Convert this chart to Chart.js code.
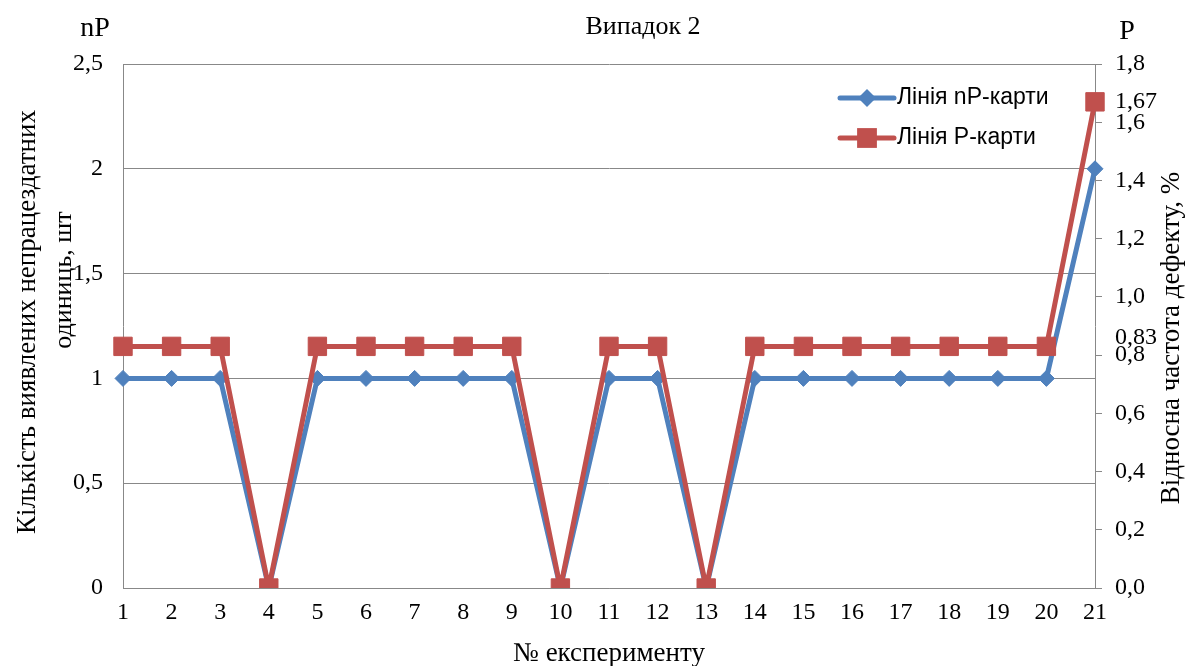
<!DOCTYPE html>
<html>
<head>
<meta charset="utf-8">
<script src="https://cdn.jsdelivr.net/npm/chart.js@4.4.0/dist/chart.umd.min.js"></script>
<style>
  html, body { margin: 0; padding: 0; background: #fff; }
</style>
</head>
<body>
<canvas id="chart" width="1187" height="666"></canvas>
<script>
// data
const experiments = ['1','2','3','4','5','6','7','8','9','10','11','12','13','14','15','16','17','18','19','20','21'];
const npValues = [1,1,1,0,1,1,1,1,1,0,1,1,0,1,1,1,1,1,1,1,2];
const pValues  = [0.83,0.83,0.83,0,0.83,0.83,0.83,0.83,0.83,0,0.83,0.83,0,0.83,0.83,0.83,0.83,0.83,0.83,0.83,1.67];
const pMarks = [0.83, 1.67];           // extra labels on the right axis
const seriesNames = ['Лінія nP-карти', 'Лінія P-карти'];
const chartTitle = 'Випадок 2';
const leftTitle = ['Кількість виявлених непрацездатних', 'одиниць, шт'];
const rightTitle = 'Відносна частота дефекту, %';
const xTitle = '№ експерименту';

const BLUE = '#4F81BD', RED = '#C0504D', GRID = '#888888';
const SERIF = '"Liberation Serif", "Times New Roman", serif';
const comma = v => String(v).replace('.', ',');

function drawMarker(ctx, style, x, y, r, color){
  ctx.fillStyle = color;
  ctx.beginPath();
  if(style === 'rect'){ const s = r*Math.SQRT1_2; ctx.rect(x-s, y-s, 2*s, 2*s); }
  else { ctx.moveTo(x, y-r); ctx.lineTo(x+r, y); ctx.lineTo(x, y+r); ctx.lineTo(x-r, y); ctx.closePath(); }
  ctx.fill();
}

// titles, custom legend (line + marker) and the extra right-axis labels
const extras = {
  id: 'extras',
  afterDraw(chart){
    const ctx = chart.ctx, a = chart.chartArea;
    ctx.save();
    ctx.fillStyle = '#000';
    ctx.textAlign = 'center'; ctx.textBaseline = 'middle';
    ctx.font = '26px ' + SERIF;
    ctx.fillText(chartTitle, 643, 27);
    ctx.font = '28px ' + SERIF;
    ctx.fillText('nP', 95, 29);
    ctx.fillText('P', 1127, 32);
    ctx.font = '27px ' + SERIF;
    ctx.fillText(xTitle, (a.left + a.right)/2, 654);

    // left axis title, two rotated lines
    ctx.font = '27px ' + SERIF;
    ctx.save(); ctx.translate(28, 322); ctx.rotate(-Math.PI/2); ctx.fillText(leftTitle[0], 0, 0); ctx.restore();
    ctx.font = '26px ' + SERIF;
    ctx.save(); ctx.translate(64, 280); ctx.rotate(-Math.PI/2); ctx.fillText(leftTitle[1], 0, 0); ctx.restore();
    // right axis title
    ctx.font = '27px ' + SERIF;
    ctx.save(); ctx.translate(1172, 338); ctx.rotate(-Math.PI/2); ctx.fillText(rightTitle, 0, 0); ctx.restore();

    // extra labels on right axis, pushed off the regular labels if they collide
    const y1 = chart.scales.y1;
    const tickPx = y1.ticks.map(t => y1.getPixelForValue(t.value));
    ctx.textAlign = 'left';
    ctx.font = '24px ' + SERIF;
    pMarks.forEach(v => {
      let y = y1.getPixelForValue(v);
      let near = tickPx.reduce((b, p) => Math.abs(p - y) < Math.abs(b - y) ? p : b, tickPx[0]);
      const d = y - near;
      if(Math.abs(d) < 17) y = near + (d < 0 ? -17 : 17);
      ctx.fillText(v.toFixed(2).replace('.', ','), y1.left + 20, y);
    });

    // legend
    ctx.font = '23px "Liberation Sans", Arial, sans-serif';
    const rows = [{ds: 0, y: 98}, {ds: 1, y: 138}];
    rows.forEach(r => {
      const d = chart.data.datasets[r.ds];
      ctx.strokeStyle = d.borderColor; ctx.lineWidth = 5; ctx.lineCap = 'round';
      ctx.beginPath(); ctx.moveTo(840, r.y); ctx.lineTo(894, r.y); ctx.stroke();
      drawMarker(ctx, d.pointStyle, 867, r.y, d.pointRadius + 1, d.borderColor);
      ctx.fillStyle = '#000';
      ctx.fillText(d.label, 897, r.y);
    });
    ctx.restore();
  }
};

new Chart(document.getElementById('chart'), {
  type: 'line',
  data: {
    labels: experiments,
    datasets: [
      { label: seriesNames[0], data: npValues, yAxisID: 'y', order: 1,
        borderColor: BLUE, backgroundColor: BLUE, borderWidth: 5, tension: 0,
        pointStyle: 'rectRot', pointRadius: 8, pointBorderWidth: 1, pointBorderColor: BLUE, pointBackgroundColor: BLUE },
      { label: seriesNames[1], data: pValues, yAxisID: 'y1', order: 0,
        borderColor: RED, backgroundColor: RED, borderWidth: 5, tension: 0,
        pointStyle: 'rect', pointRadius: 13, pointBorderWidth: 1, pointBorderColor: RED, pointBackgroundColor: RED }
    ]
  },
  options: {
    responsive: false,
    devicePixelRatio: 1,
    animation: false,
    layout: { padding: { top: 64, left: 0, right: 0, bottom: 0 } },
    plugins: { legend: { display: false }, tooltip: { enabled: false } },
    scales: {
      x: {
        offset: false,
        grid: { display: false, drawTicks: false },
        border: { display: true, color: GRID, width: 1 },
        ticks: { color: '#000', font: { family: SERIF, size: 24 }, padding: 10, maxRotation: 0, autoSkip: false },
        afterFit: s => { s.height = 78; }
      },
      y: {
        position: 'left', min: 0, max: 2.5,
        grid: { color: GRID, lineWidth: 1, drawTicks: false },
        border: { display: true, color: GRID, width: 1 },
        ticks: { stepSize: 0.5, color: '#000', font: { family: SERIF, size: 24 }, padding: 20,
                 callback: v => comma(v) },
        afterFit: s => { s.width = 123; }
      },
      y1: {
        position: 'right', min: 0, max: 1.8,
        grid: { drawOnChartArea: false, drawTicks: true, tickLength: 7, tickColor: GRID },
        border: { display: true, color: GRID, width: 1 },
        ticks: { stepSize: 0.2, color: '#000', font: { family: SERIF, size: 24 }, padding: 13, autoSkip: false,
                 callback: v => Number(v).toFixed(1).replace('.', ',') },
        afterFit: s => { s.width = 92; }
      }
    }
  },
  plugins: [extras]
});
</script>
</body>
</html>
